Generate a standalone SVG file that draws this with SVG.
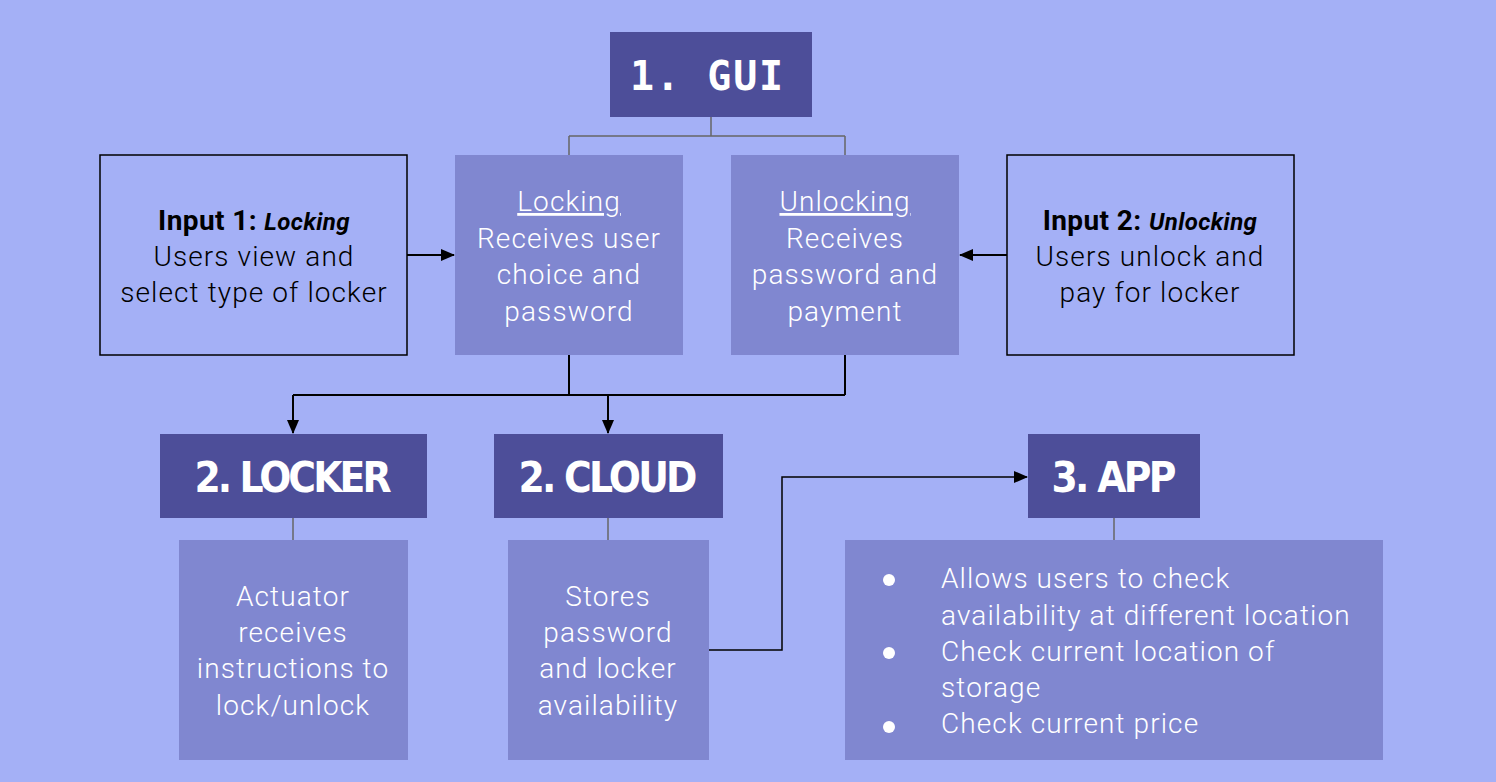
<svg xmlns="http://www.w3.org/2000/svg" width="1496" height="782" viewBox="0 0 1496 782">
<defs>
<style>
.dark{fill:#4d4e99}
.med{fill:#8087d0}
.inbox{fill:none;stroke:#000;stroke-width:1.5}
.title{font-family:"DejaVu Sans Condensed","DejaVu Sans",sans-serif;font-weight:bold;font-size:42px;fill:#fff;text-anchor:middle}
.mono{font-family:"DejaVu Sans Mono",monospace;font-weight:bold;font-size:40px;fill:#fff}
.body{font-family:Roboto,"Liberation Sans",sans-serif;font-weight:300;font-size:28px;letter-spacing:1.1px;fill:#fff;text-anchor:middle}
.blk{font-family:Roboto,"Liberation Sans",sans-serif;font-weight:300;font-size:28px;letter-spacing:1.1px;fill:#000;text-anchor:middle}
.list{font-family:Roboto,"Liberation Sans",sans-serif;font-weight:300;font-size:28px;letter-spacing:1.1px;fill:#fff}
.gray{stroke:#666;stroke-width:1.5;fill:none}
.arr{stroke:#000;stroke-width:2;fill:none}
</style>
<marker id="ah2" markerWidth="14" markerHeight="12" refX="13" refY="6" orient="auto" markerUnits="userSpaceOnUse" viewBox="0 0 14 12">
<path d="M0,0 L14,6 L0,12 Z" fill="#000"/>
</marker>
</defs>
<rect width="1496" height="782" fill="#a4b0f6"/>

<g id="connectors">
<path class="gray" d="M711,117 V136 M569,136 H845 M569,136 V155 M845,136 V155"/>
<line class="arr" x1="407" y1="255" x2="454" y2="255" marker-end="url(#ah2)"/>
<line class="arr" x1="1007" y1="255" x2="960" y2="255" marker-end="url(#ah2)"/>
<path class="arr" d="M569,355 V395 M845,355 V395 M293,395 H845"/>
<line class="arr" x1="293" y1="395" x2="293" y2="433" marker-end="url(#ah2)"/>
<line class="arr" x1="608" y1="395" x2="608" y2="433" marker-end="url(#ah2)"/>
<path class="gray" d="M293,518 V540 M608,518 V540 M1114,518 V540"/>
<polyline class="arr" style="stroke-width:1.5" points="709,650 782,650 782,477 1027,477" marker-end="url(#ah2)"/>
</g>

<g id="gui">
<rect class="dark" x="610" y="32" width="202" height="85"/>
<text class="mono" x="630" y="90" textLength="153">1.  GUI</text>
</g>

<g id="input1">
<rect class="inbox" x="100" y="155" width="307" height="200"/>
<text class="blk" x="254" y="230" style="letter-spacing:0.4px"><tspan font-weight="bold">Input 1: </tspan><tspan font-weight="bold" font-style="italic" font-size="24">Locking</tspan></text>
<text class="blk" x="254" y="266">Users view and</text>
<text class="blk" x="254" y="302">select type of locker</text>
</g>

<g id="locking">
<rect class="med" x="455" y="155" width="228" height="200"/>
<text class="body" x="569" y="211" text-decoration="underline">Locking</text>
<text class="body" x="569" y="248">Receives user</text>
<text class="body" x="569" y="284">choice and</text>
<text class="body" x="569" y="321">password</text>
</g>

<g id="unlocking">
<rect class="med" x="731" y="155" width="228" height="200"/>
<text class="body" x="845" y="211" text-decoration="underline">Unlocking</text>
<text class="body" x="845" y="248">Receives</text>
<text class="body" x="845" y="284">password and</text>
<text class="body" x="845" y="321">payment</text>
</g>

<g id="input2">
<rect class="inbox" x="1007" y="155" width="287" height="200"/>
<text class="blk" x="1150" y="230" style="letter-spacing:0.4px"><tspan font-weight="bold">Input 2: </tspan><tspan font-weight="bold" font-style="italic" font-size="24">Unlocking</tspan></text>
<text class="blk" x="1150" y="266">Users unlock and</text>
<text class="blk" x="1150" y="302">pay for locker</text>
</g>

<g id="locker">
<rect class="dark" x="160" y="434" width="267" height="84"/>
<text class="title" x="293" y="492" textLength="197">2. LOCKER</text>
</g>

<g id="cloud">
<rect class="dark" x="494" y="434" width="229" height="84"/>
<text class="title" x="608" y="492" textLength="179">2. CLOUD</text>
</g>

<g id="app">
<rect class="dark" x="1028" y="434" width="172" height="84"/>
<text class="title" x="1114" y="492" textLength="125">3. APP</text>
</g>

<g id="locker-detail">
<rect class="med" x="179" y="540" width="229" height="220"/>
<text class="body" x="293" y="606">Actuator</text>
<text class="body" x="293" y="642">receives</text>
<text class="body" x="293" y="678">instructions to</text>
<text class="body" x="293" y="715">lock/unlock</text>
</g>

<g id="cloud-detail">
<rect class="med" x="508" y="540" width="201" height="220"/>
<text class="body" x="608" y="606">Stores</text>
<text class="body" x="608" y="642">password</text>
<text class="body" x="608" y="678">and locker</text>
<text class="body" x="608" y="715">availability</text>
</g>

<g id="app-detail">
<rect class="med" x="845" y="540" width="538" height="220"/>
<circle cx="889" cy="580" r="6" fill="#fff"/>
<circle cx="889" cy="653" r="6" fill="#fff"/>
<circle cx="889" cy="727" r="6" fill="#fff"/>
<text class="list" x="941" y="588">Allows users to check</text>
<text class="list" x="941" y="625">availability at different location</text>
<text class="list" x="941" y="661">Check current location of</text>
<text class="list" x="941" y="697">storage</text>
<text class="list" x="941" y="733">Check current price</text>
</g>
</svg>
